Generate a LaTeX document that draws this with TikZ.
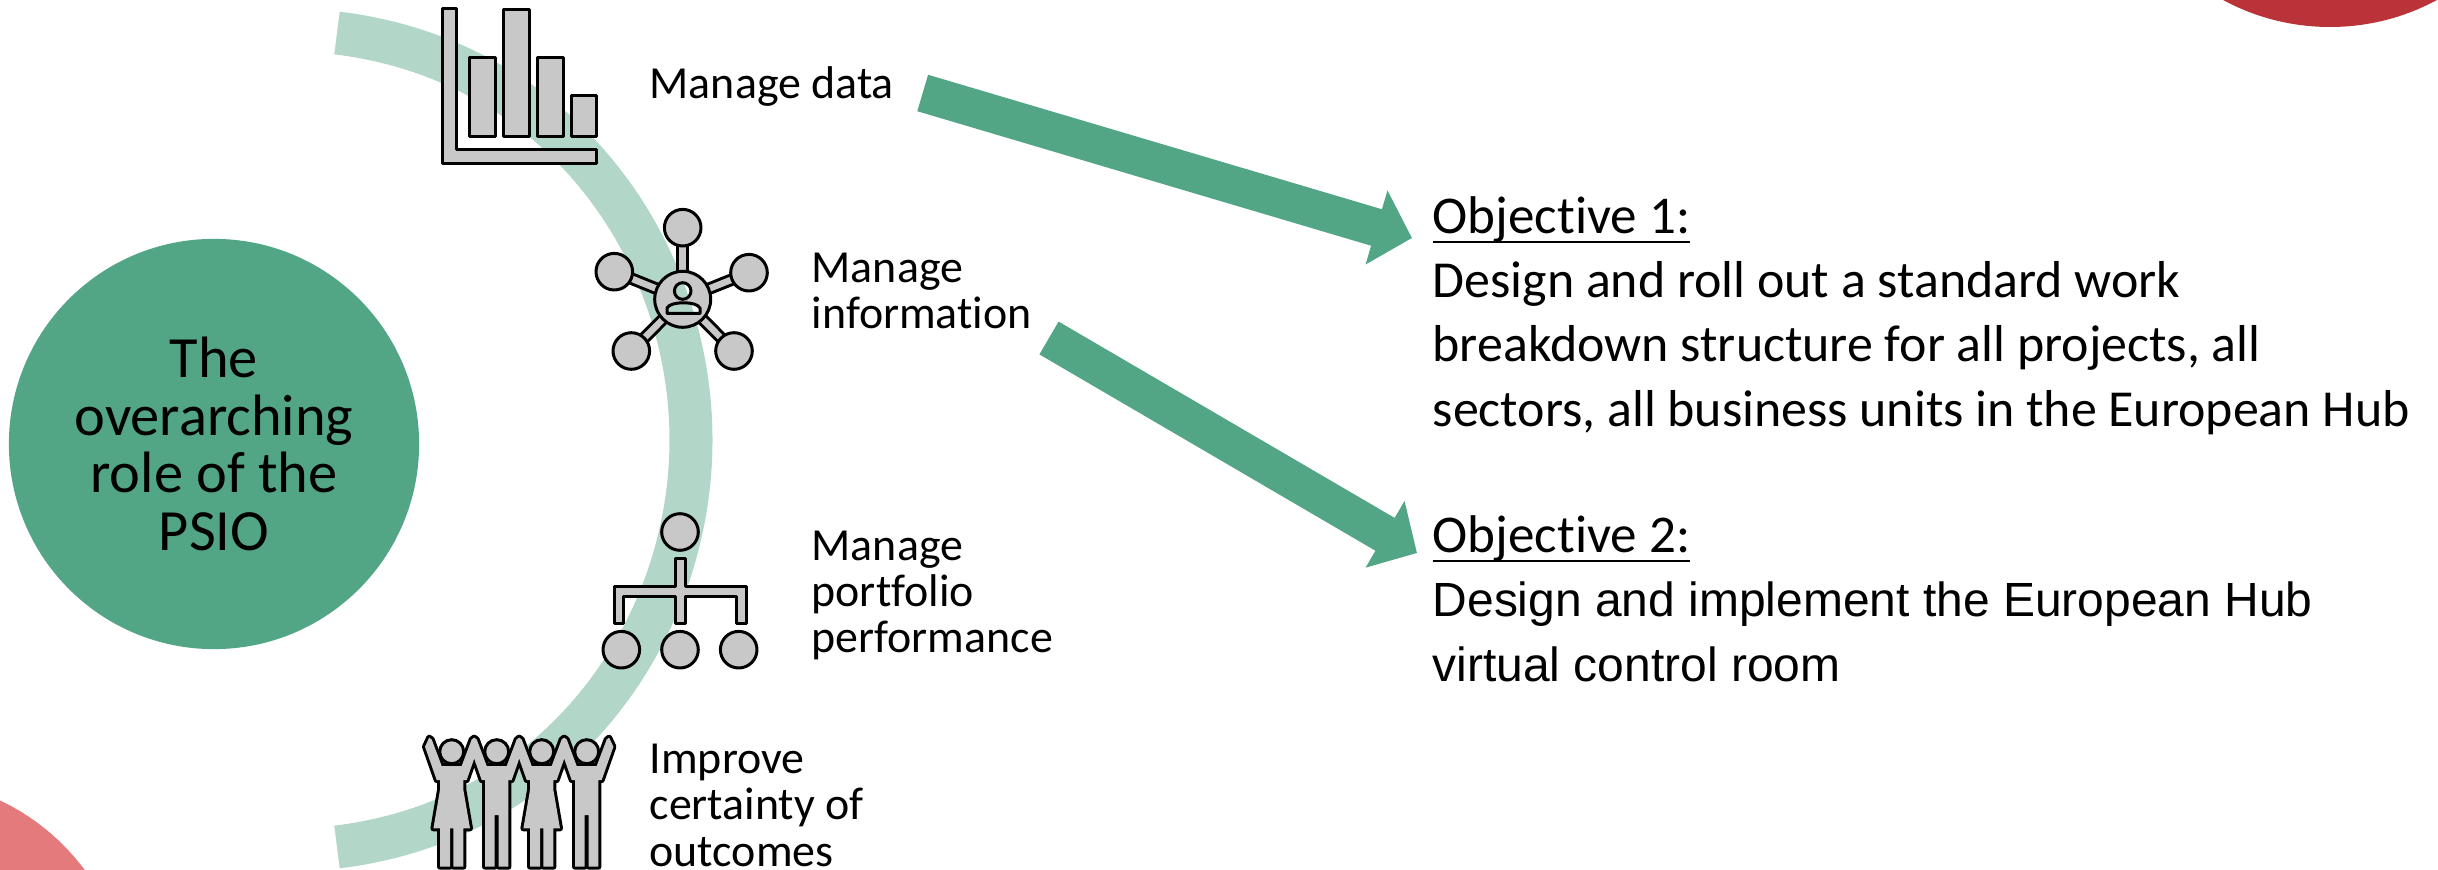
\documentclass[tikz,border=0pt]{standalone}
\usepackage{fontspec}
\setmainfont{Carlito}[Ligatures=NoCommon]
\newfontfamily\arialfont{Liberation Sans}
\usepackage{tikz}
\usetikzlibrary{arrows.meta}
\definecolor{psiogreen}{HTML}{52A685}
\definecolor{ringgreen}{HTML}{B2D6C8}
\definecolor{icongrey}{HTML}{C8C8C8}
\definecolor{darkred}{HTML}{B93339}
\definecolor{lightred}{HTML}{E57A7C}
\tikzstyle{Icon}=[draw=black, fill=icongrey, line width=0.03cm, line join=round]
\tikzstyle{Halo}=[draw=black, line width=0.06cm, line join=round]
\tikzstyle{Plain}=[fill=icongrey]
\tikzstyle{Spoke}=[draw=black, line width=0.03cm, double=icongrey, double distance=0.065cm, shorten <=0.26cm]
\tikzstyle{Label}=[inner sep=0, anchor=base west, align=left, font=\fontsize{13.05}{13.1}\selectfont]
\tikzstyle{Objective}=[inner sep=0, anchor=base west, align=left, font=\fontsize{14.76}{18.2}\selectfont]
\tikzstyle{Flow}=[draw=psiogreen, line width=0.38cm, -{Triangle[length=0.37cm, width=0.75cm, fill=psiogreen]}]
\newcommand{\headline}[1]{\sbox0{\fontsize{15.1}{18.2}\selectfont #1}\rlap{\rule[-2.7pt]{\wd0}{0.7pt}}\box0}
\tikzset{
  pics/woman/.style={code={
    \path[#1] (-26.7,-5) -- (-22.5,-14) -- (-20,-12.3) -- (-10,14.3) -- (10,14.3) -- (20,-12.3) -- (22.5,-14) -- (26.7,-5)
      -- (15,28.3) -- (11.7,28.3) -- (11.7,38.3) -- (18.3,76.7) -- (11.7,76.7) -- (11.7,115) -- (1.7,115) -- (1.7,76.7)
      -- (-1.7,76.7) -- (-1.7,115) -- (-11.7,115) -- (-11.7,76.7) -- (-18.3,76.7) -- (-11.7,38.3) -- (-11.7,28.3) -- (-15,28.3) -- cycle;
  }},
  pics/man/.style={code={
    \path[#1] (-26.7,-5) -- (-22.5,-14) -- (-20,-12.3) -- (-10,14.3) -- (10,14.3) -- (20,-12.3) -- (22.5,-14) -- (26.7,-5)
      -- (15,28.3) -- (11.7,28.3) -- (11.7,115) -- (2,115) -- (2,63.3) -- (-2,63.3) -- (-2,115) -- (-11.7,115) -- (-11.7,28.3) -- (-15,28.3) -- cycle;
  }}
}

\begin{document}
\begin{tikzpicture}[x=0.01cm, y=-0.01cm]
    \useasboundingbox (0,0) rectangle (2438,870);
    \begin{scope}
    \clip (0,0) rectangle (2438,870);
    \fill[darkred] (2330,-198) circle (225);
    \fill[lightred] (-96,1004) circle (225);
    \draw[ringgreen, line width=0.43cm] (337,33) .. controls (560,60) and (691,250) .. (691,440) .. controls (691,630) and (560,820) .. (337,847);
    \end{scope}

    \path
    (214,444) node[circle, fill=psiogreen, minimum size=4.1cm, inner sep=0, align=center, font=\fontsize{16.6}{16.36}\selectfont] (role) {The\\overarching\\role of the\\PSIO};

    % bar chart
    \draw[Icon] (442.3,9) -- (456.7,9) -- (456.7,150) -- (596,150) -- (596,164) -- (442.3,164) -- cycle;
    \draw[Icon] (469.3,57.3) rectangle (495,136.7);
    \draw[Icon] (503.3,9.3) rectangle (529,136.7);
    \draw[Icon] (537.3,57.3) rectangle (563,136.7);
    \draw[Icon] (571.3,95.7) rectangle (596.7,136.7);

    % network
    \path
    (682.7,299.3) coordinate (hub)
    (682.7,227.7) coordinate (sat1)
    (614.3,271.7) coordinate (sat2)
    (749,272.7) coordinate (sat3)
    (631.3,351) coordinate (sat4)
    (734,351) coordinate (sat5);
    \draw[Spoke] (hub) -- (sat1);
    \draw[Spoke] (hub) -- (sat2);
    \draw[Spoke] (hub) -- (sat3);
    \draw[Spoke] (hub) -- (sat4);
    \draw[Spoke] (hub) -- (sat5);
    \draw[Icon, even odd rule] (hub) circle (28) (682.7,291) circle (8.3)
      (667,313.5) -- (667,308) .. controls (670,301) and (697,301) .. (700,308) -- (700,313.5) -- cycle;
    \draw[Icon] (sat1) circle (18.3);
    \draw[Icon] (sat2) circle (18.3);
    \draw[Icon] (sat3) circle (18.3);
    \draw[Icon] (sat4) circle (18.3);
    \draw[Icon] (sat5) circle (18.3);

    % org chart
    \draw[Icon] (621.3,649.7) circle (18.3);
    \draw[Icon] (680,649.7) circle (18.3);
    \draw[Icon] (738.7,649.7) circle (18.3);
    \draw[Icon] (680,532) circle (18.3);
    \draw[Icon] (675,558.3) -- (685,558.3) -- (685,586.7) -- (746,586.7) -- (746,623.3) -- (736.7,623.3) -- (736.7,596)
      -- (685,596) -- (685,623.3) -- (675,623.3) -- (675,596) -- (623.3,596) -- (623.3,623.3) -- (614,623.3) -- (614,586.7) -- (675,586.7) -- cycle;

    % people
    \pic at (451.7,751.7) {woman={Halo}};
    \pic at (496.7,751.7) {man={Halo}};
    \pic at (541.7,751.7) {woman={Halo}};
    \pic at (586.7,751.7) {man={Halo}};
    \pic at (451.7,751.7) {woman={Plain}};
    \pic at (496.7,751.7) {man={Plain}};
    \pic at (541.7,751.7) {woman={Plain}};
    \pic at (586.7,751.7) {man={Plain}};
    \draw[Icon] (451.7,751.7) circle (12);
    \draw[Icon] (496.7,751.7) circle (12);
    \draw[Icon] (541.7,751.7) circle (12);
    \draw[Icon] (586.7,751.7) circle (12);

    \path
    (649,99) node[Label] (data) {Manage data}
    (811,329) node[Label] (information) {Manage\\information}
    (811,652.5) node[Label] (portfolio) {Manage\\portfolio\\performance}
    (649,866) node[Label] (certainty) {Improve\\certainty of\\outcomes};

    \path
    (1432,426) node[Objective] (obj1) {\headline{Objective 1:}\\Design and roll out a standard work\\breakdown structure for all projects, all\\sectors, all business units in the European Hub}
    (1432,681) node[Objective] (obj2) {\headline{Objective 2:}\\{\arialfont\fontsize{13.64}{18.2}\selectfont Design and implement the European Hub}\\{\arialfont\fontsize{13.64}{18.2}\selectfont virtual control room}};

    \path
    (922.7,93) coordinate (flow1)
    (1412,238) coordinate (goal1)
    (1049,338) coordinate (flow2)
    (1417,553) coordinate (goal2);
    \draw[Flow] (flow1) -- (goal1);
    \draw[Flow] (flow2) -- (goal2);
\end{tikzpicture}
\end{document}
